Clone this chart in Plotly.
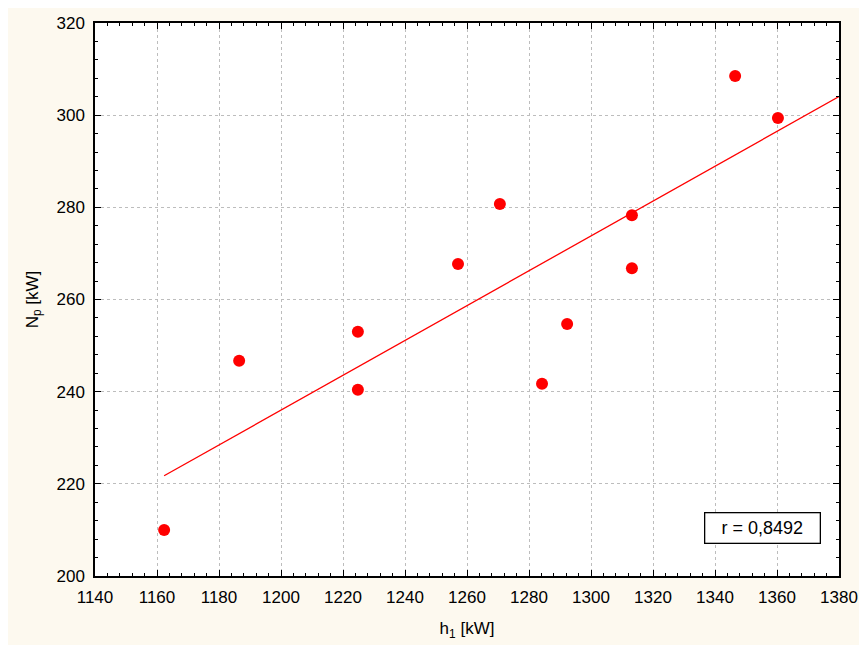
import numpy as np
import plotly.graph_objects as go

# data
h1 = [1162.3, 1186.5, 1224.8, 1224.8, 1257.1, 1270.6, 1284.2, 1292.3, 1313.2, 1313.2, 1346.5, 1360.3]
Np = [210.0, 246.7, 253.0, 240.4, 267.7, 280.7, 241.7, 254.7, 278.3, 266.8, 308.5, 299.4]
r_text = "r = 0,8492"
x_ticks = list(range(1140, 1381, 20))
y_ticks = list(range(200, 321, 20))

# page is offset by the 8px body margin
OFF = 8
W, H = 867 - OFF, 649 - OFF
ml, mt = 95 - OFF, 23 - OFF
pw, ph = 744, 553
mr, mb = W - ml - pw, H - mt - ph

slope, intercept = np.polyfit(h1, Np, 1)
xl = np.array([min(h1), 1380])
yl = slope * xl + intercept

fig = go.Figure()
fig.add_trace(go.Scatter(x=xl, y=yl, mode="lines", line=dict(color="#ff0000", width=1.3),
                         showlegend=False, hoverinfo="skip"))
fig.add_trace(go.Scatter(x=h1, y=Np, mode="markers", marker=dict(color="#ff0000", size=12),
                         showlegend=False))

cream = "#fdf9ef"
fig.add_shape(type="rect", xref="paper", yref="paper",
              x0=-ml / pw, x1=(W - ml) / pw, y0=-(637 - mt - ph) / ph, y1=(H - mb) / ph,
              fillcolor=cream, line=dict(width=0), layer="below")
fig.add_shape(type="rect", xref="paper", yref="paper", x0=0, x1=1, y0=0, y1=1,
              fillcolor="white", line=dict(width=0), layer="below")

FONT = "Arial, Liberation Sans, sans-serif"
axis_common = dict(
    showline=True, linecolor="black", linewidth=1.5, mirror="ticks",
    ticks="inside", ticklen=6, tickwidth=1.2, tickcolor="black",
    showgrid=True, gridcolor="#bdbdbd", griddash="dot", gridwidth=1,
    zeroline=False, tickfont=dict(family=FONT, size=17, color="black"),
    ticklabelstandoff=5, automargin=False,
)
fig.update_xaxes(range=[1140, 1380], tickvals=x_ticks,
                 minor=dict(dtick=4, tick0=1140, ticks="inside", ticklen=3, tickcolor="black", showgrid=False),
                 title=dict(text="h<sub>1</sub> [kW]", font=dict(family=FONT, size=17, color="black"), standoff=16),
                 **axis_common)
fig.update_yaxes(range=[200, 320], tickvals=y_ticks,
                 minor=dict(dtick=4, tick0=200, ticks="inside", ticklen=3, tickcolor="black", showgrid=False),
                 title=dict(text="N<sub>p</sub> [kW]", font=dict(family=FONT, size=17, color="black"), standoff=14),
                 **axis_common)

fig.add_annotation(xref="paper", yref="paper", x=(762.7 - 95) / pw, y=(576 - 528) / ph,
                   xanchor="center", yanchor="middle",
                   text=r_text, showarrow=False, font=dict(family=FONT, size=18, color="black"),
                   bordercolor="black", borderwidth=1.3, bgcolor="white", borderpad=4,
                   width=106, height=21)

fig.update_layout(width=W, height=H, margin=dict(l=ml, r=mr, t=mt, b=mb),
                  paper_bgcolor="white", plot_bgcolor="white")
fig.write_html("out.html")
